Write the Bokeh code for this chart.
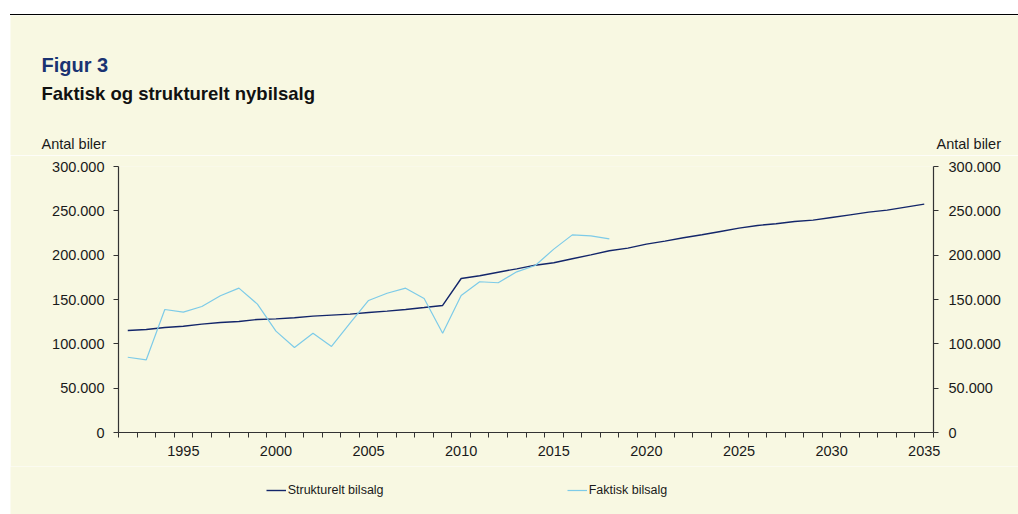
from bokeh.plotting import figure
from bokeh.models import (Range1d, LinearAxis, FixedTicker, Label, Legend, LegendItem, Div)
from bokeh.layouts import column
from bokeh.embed import file_html
from bokeh.resources import INLINE

# ---- data ----
years_struct = list(range(1992, 2036))
strukturelt = [115000, 116200, 118400, 119900, 122200, 124000, 125200, 127500, 128200, 129400,
               131200, 132400, 133500, 135400, 136900, 138800, 141000, 143300, 173700, 176800,
               180800, 184600, 188700, 191400, 195900, 200400, 205000, 207900, 212400, 215800,
               219600, 223000, 226700, 230500, 233500, 235400, 238000, 239500, 242500, 245500,
               248500, 250800, 254200, 257600]
years_actual = list(range(1992, 2019))
faktisk = [84900, 82000, 138700, 135700, 142100, 154200, 162800, 144800, 114300, 95900,
           112000, 97000, 123300, 148900, 157100, 162800, 151200, 112000, 154500, 170000,
           168900, 181200, 188400, 206800, 222900, 221800, 218400]
x_label_years = [1995, 2000, 2005, 2010, 2015, 2020, 2025, 2030, 2035]
y_ticks = [0, 50000, 100000, 150000, 200000, 250000, 300000]
y_tick_labels = ["0", "50.000", "100.000", "150.000", "200.000", "250.000", "300.000"]
series_names = ["Strukturelt bilsalg", "Faktisk bilsalg"]

BG = "#f8f8e2"
NAVY = "#13266a"
LIGHT = "#7dcbe8"
FONT = "Liberation Sans"
TXT = "#1a1a1a"
W = 1008


def no_align(f):
    try:
        f.frame_align = False
    except Exception:
        pass


def blank_fig(height, y_top, y_bottom):
    f = figure(width=W, height=height, output_backend="svg", toolbar_location=None,
               x_range=Range1d(10, 10 + W), y_range=Range1d(y_bottom, y_top),
               x_axis_type=None, y_axis_type=None, min_border=0)
    f.background_fill_color = BG
    f.border_fill_color = BG
    f.outline_line_color = None
    f.xgrid.visible = False
    f.ygrid.visible = False
    no_align(f)
    return f


# ---- header (page coords 15..155) ----
head = blank_fig(140, 15, 155)


def lab(text, x, y, size, bold=False, color=TXT):
    head.add_layout(Label(x=x, y=y, text=text, text_font=FONT, text_font_size=size,
                          text_color=color, text_font_style="bold" if bold else "normal",
                          text_baseline="alphabetic", text_align="left"))


lab("Figur 3", 41, 64, "20px", True, "#1a3372")
lab("Faktisk og strukturelt nybilsalg", 41, 93, "18.5px", True, "#111111")
lab("Antal biler", 41, 143.5, "14.5px")
lab("Antal biler", 936, 143.5, "14.5px")

# ---- main chart (page coords 155..466) ----
p = figure(width=W, height=311, output_backend="svg", toolbar_location=None,
           x_range=Range1d(years_struct[0] - 0.5, years_struct[-1] + 0.5),
           y_range=Range1d(0, 300000), x_axis_type=None, y_axis_type=None,
           min_border_left=108, min_border_right=85, min_border_top=11, min_border_bottom=34)
p.background_fill_color = BG
p.border_fill_color = BG
p.outline_line_color = None
p.xgrid.visible = False
p.ygrid.visible = False
no_align(p)

p.line(years_struct, strukturelt, line_color=NAVY, line_width=1.4)
p.line(years_actual, faktisk, line_color=LIGHT, line_width=1.2)

minor = [y - 0.5 for y in years_struct] + [years_struct[-1] + 0.5]
xaxis = LinearAxis(ticker=FixedTicker(ticks=x_label_years, minor_ticks=minor))
xaxis.major_tick_out = 0
xaxis.major_tick_in = 0
xaxis.minor_tick_out = 5
xaxis.minor_tick_in = 0
xaxis.major_label_standoff = 8
p.add_layout(xaxis, "below")

overrides = {t: l for t, l in zip(y_ticks, y_tick_labels)}
laxis = LinearAxis(ticker=FixedTicker(ticks=y_ticks, minor_ticks=[]))
raxis = LinearAxis(ticker=FixedTicker(ticks=y_ticks, minor_ticks=[]))
laxis.major_label_overrides = overrides
raxis.major_label_overrides = overrides
laxis.major_label_standoff = 9
raxis.major_label_standoff = 10
p.add_layout(laxis, "left")
p.add_layout(raxis, "right")

for ax in [xaxis, laxis, raxis]:
    ax.axis_line_color = "#333333"
    ax.axis_line_width = 1.2
    ax.major_tick_line_color = "#333333"
    ax.minor_tick_line_color = "#333333"
    ax.major_label_text_font = FONT
    ax.major_label_text_font_size = "14.5px"
    ax.major_label_text_color = TXT
for ax in [laxis, raxis]:
    ax.major_tick_out = 5
    ax.major_tick_in = 0
    ax.minor_tick_out = 0
    ax.minor_tick_in = 0

# ---- legend footer (page coords 466..514) ----
foot = blank_fig(48, 466, 514)
# swatch renderers sit outside the visible footer range; only their style is used by the legend
k1 = foot.line([-100, -90], [0, 0], line_color=NAVY, line_width=1.4)
k2 = foot.line([-100, -90], [0, 0], line_color=LIGHT, line_width=1.2)
for r, name, xloc in [(k1, series_names[0], 255.7), (k2, series_names[1], 556.7)]:
    lg = Legend(items=[LegendItem(label=name, renderers=[r])], location=(xloc, 14),
                padding=0, margin=0, border_line_color=None, background_fill_alpha=0,
                glyph_width=20, glyph_height=20, label_standoff=2, label_height=20,
                label_text_font=FONT, label_text_font_size="12.5px", label_text_color=TXT)
    foot.add_layout(lg, "center")

top = Div(text="", width=W, height=6, margin=(8, 0, 0, 10),
          styles={"border-bottom": "1px solid black", "box-sizing": "content-box"})
for f in (head, p, foot):
    f.margin = (0, 0, 0, 10)
layout = column(top, head, p, foot, spacing=0)

open("out.html", "w").write(file_html(layout, INLINE))
